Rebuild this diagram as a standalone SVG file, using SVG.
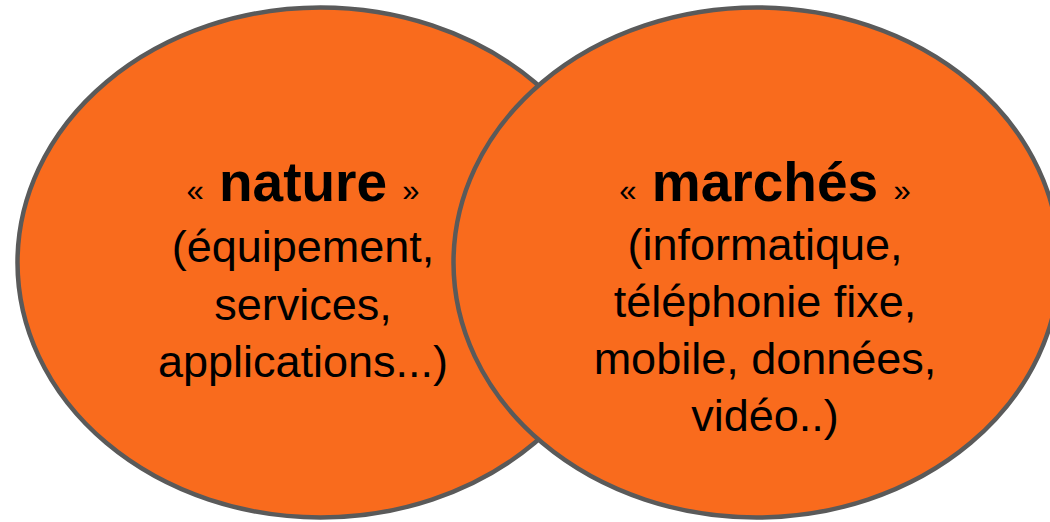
<svg xmlns="http://www.w3.org/2000/svg" width="1050" height="522" viewBox="0 0 1050 522">
<style>
.bubble{fill:#F96B1D;stroke:#5A5A5A;stroke-width:4.5}
.t{font-family:"Liberation Sans",Arial,sans-serif;font-size:45px;fill:#000;text-anchor:middle}
.q{font-size:31px}
.h{font-size:55px;font-weight:bold}
</style>
<rect width="1050" height="522" fill="#fff"/>
<g id="node-nature">
<ellipse class="bubble" cx="320.5" cy="262.5" rx="303" ry="255"/>
<text class="t" x="303" y="201"><tspan class="q">«</tspan><tspan class="h"> nature </tspan><tspan class="q">»</tspan></text>
<text class="t" x="303" y="262">(équipement,</text>
<text class="t" x="303" y="320">services,</text>
<text class="t" x="303" y="377">applications...)</text>
</g>
<g id="node-marches">
<ellipse class="bubble" cx="756.5" cy="262.5" rx="303" ry="255"/>
<text class="t" x="765" y="201"><tspan class="q">«</tspan><tspan class="h"> marchés </tspan><tspan class="q">»</tspan></text>
<text class="t" x="765" y="260">(informatique,</text>
<text class="t" x="765" y="317">téléphonie fixe,</text>
<text class="t" x="765" y="374">mobile, données,</text>
<text class="t" x="765" y="431">vidéo..)</text>
</g>
<g id="connectors"/>
</svg>
